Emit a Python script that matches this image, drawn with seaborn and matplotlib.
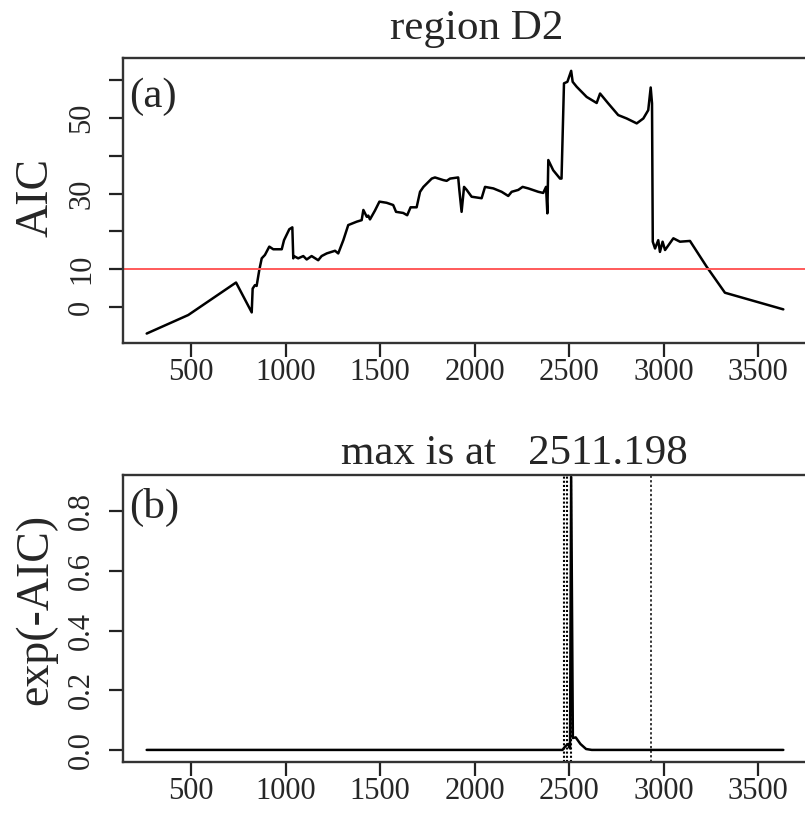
import matplotlib
matplotlib.use("Agg")
import matplotlib.pyplot as plt
import seaborn as sns
import pandas as pd
import numpy as np

# ---- data ----
aic_x = [264, 484, 737, 820, 825, 837, 846, 860, 873, 890, 913, 934, 979, 991, 1019, 1035,
         1040, 1043, 1066, 1093, 1111, 1137, 1172, 1190, 1217, 1261, 1278, 1305, 1331, 1376,
         1402, 1411, 1429, 1437, 1446, 1472, 1496, 1534, 1569, 1584, 1622, 1643, 1661, 1693,
         1711, 1729, 1773, 1790, 1834, 1852, 1870, 1913, 1919, 1931, 1944, 1958, 1984, 2037,
         2055, 2099, 2143, 2178, 2196, 2231, 2254, 2284, 2337, 2363, 2378, 2385, 2390, 2416,
         2452, 2460, 2473, 2491, 2511, 2519, 2540, 2593, 2646, 2664, 2707, 2760, 2805, 2858,
         2893, 2919, 2932, 2939, 2943, 2955, 2972, 2981, 2995, 3008, 3052, 3087, 3140, 3228,
         3325, 3634]
aic_y = [-7.0, -2.1, 6.5, -1.4, 4.9, 5.8, 5.6, 9.8, 12.9, 13.8, 16.0, 15.3, 15.3, 17.7, 20.6, 21.1,
         12.9, 13.5, 12.9, 13.5, 12.6, 13.5, 12.4, 13.5, 14.2, 14.9, 14.2, 17.7, 21.7, 22.6,
         23.0, 25.7, 23.9, 24.2, 23.2, 25.5, 27.9, 27.6, 27.0, 25.2, 24.9, 24.3, 26.4, 26.4,
         30.5, 31.8, 34.0, 34.3, 33.6, 33.4, 34.0, 34.3, 31.0, 25.2, 31.8, 31.0, 29.2, 28.8,
         31.8, 31.4, 30.5, 29.4, 30.5, 31.0, 31.8, 31.4, 30.5, 30.2, 31.8, 24.8, 38.9, 36.2,
         34.0, 34.0, 59.2, 59.6, 62.5, 59.6, 58.3, 55.6, 54.0, 56.5, 53.9, 50.8, 49.9, 48.6,
         49.9, 52.1, 58.1, 53.9, 17.3, 15.5, 17.7, 14.6, 17.3, 15.1, 18.2, 17.3, 17.5, 10.7,
         3.8, -0.6]

w_x = [264, 2380, 2465, 2480, 2495, 2505, 2511, 2520, 2535, 2560, 2590, 2620, 3634]
w_y = [0.0, 0.0, 0.0, 0.012, 0.02, 0.005, 0.915, 0.04, 0.042, 0.02, 0.003, 0.0, 0.0]

cand_x = [2473, 2491, 2508]   # dense dotted markers near the maximum
other_x = [2932]              # second dotted marker
threshold = 10
a_yticks = [0, 10, 20, 30, 40, 50, 60]
a_ylabels = ["0", "10", "", "30", "", "50", ""]
b_yticks = [0.0, 0.2, 0.4, 0.6, 0.8]
b_ylabels = ["0.0", "0.2", "0.4", "0.6", "0.8"]
x_ticks = [500, 1000, 1500, 2000, 2500, 3000, 3500]

df_a = pd.DataFrame({"x": aic_x, "y": aic_y})
df_b = pd.DataFrame({"x": w_x, "y": w_y})

sns.set_style("white")
plt.rcParams["font.family"] = ["Liberation Serif", "DejaVu Serif"]

W, H = 805, 814
fig = plt.figure(figsize=(W / 100, H / 100), dpi=100)

def pos(l, r, t, b):
    return [l / W, 1 - b / H, (r - l) / W, (b - t) / H]

ax1 = fig.add_axes(pos(122.5, 809, 58, 343))
ax2 = fig.add_axes(pos(122.5, 809, 475, 762))

xlim = (136, 3770)
tick_fs = 22

for ax in (ax1, ax2):
    for s in ax.spines.values():
        s.set_linewidth(1.7)
        s.set_color("#333333")
    ax.tick_params(direction="out", length=10, width=1.6, color="#222222",
                   labelsize=tick_fs, pad=0.5, left=True, bottom=True)
    ax.tick_params(axis="y", pad=9)
    ax.set_xlim(*xlim)
    ax.set_xticks(x_ticks)
    ax.set_xticklabels([str(v) for v in x_ticks])

# ---- panel (a) ----
sns.lineplot(data=df_a, x="x", y="y", ax=ax1, color="black", linewidth=1.8,
             estimator=None, sort=False)
ax1.axhline(threshold, color="#ff5a5a", linewidth=1.4)
ax1.set_ylim(-9.5, 65.9)
ax1.set_yticks(a_yticks)
ax1.set_yticklabels(a_ylabels, rotation=90, va="center")
ax1.set_xlabel("")
ax1.set_ylabel("AIC", fontsize=33)
ax1.yaxis.set_label_coords(-36 / 686.5 * 686.5 / 686.5 - 0.0, 0.512)
ax1.text(0.01, 0.93, "(a)", transform=ax1.transAxes, fontsize=31, va="top", ha="left")

# ---- panel (b) ----
sns.lineplot(data=df_b, x="x", y="y", ax=ax2, color="black", linewidth=1.8,
             estimator=None, sort=False)
for xv in cand_x:
    ax2.axvline(xv, color="black", linestyle=(0, (1.0, 1.0)), linewidth=1.5)
for xv in other_x:
    ax2.axvline(xv, color="black", linestyle=(0, (1.5, 1.5)), linewidth=1.1)
ax2.set_ylim(-0.0405, 0.9215)
ax2.set_yticks(b_yticks)
ax2.set_yticklabels(b_ylabels, rotation=90, va="center")
ax2.set_xlabel("")
ax2.set_ylabel("exp(-AIC)", fontsize=33)
ax2.text(0.01, 0.955, "(b)", transform=ax2.transAxes, fontsize=31, va="top", ha="left")

# y-label placement: centre of text ~36 px from the left edge of the figure
lab_x = (36 - 122.5) / 686.5
ax1.yaxis.set_label_coords(lab_x, 0.512)
ax2.yaxis.set_label_coords(lab_x, 0.531)
ax1.yaxis.label.set_va("center")
ax2.yaxis.label.set_va("center")

# titles
fig.text(477 / W, 1 - 39 / H, "region D2", fontsize=31, ha="center", va="baseline")
fig.text(514 / W, 1 - 464 / H, "max is at   2511.198", fontsize=31, ha="center", va="baseline")

fig.savefig("out.png", dpi=100)
